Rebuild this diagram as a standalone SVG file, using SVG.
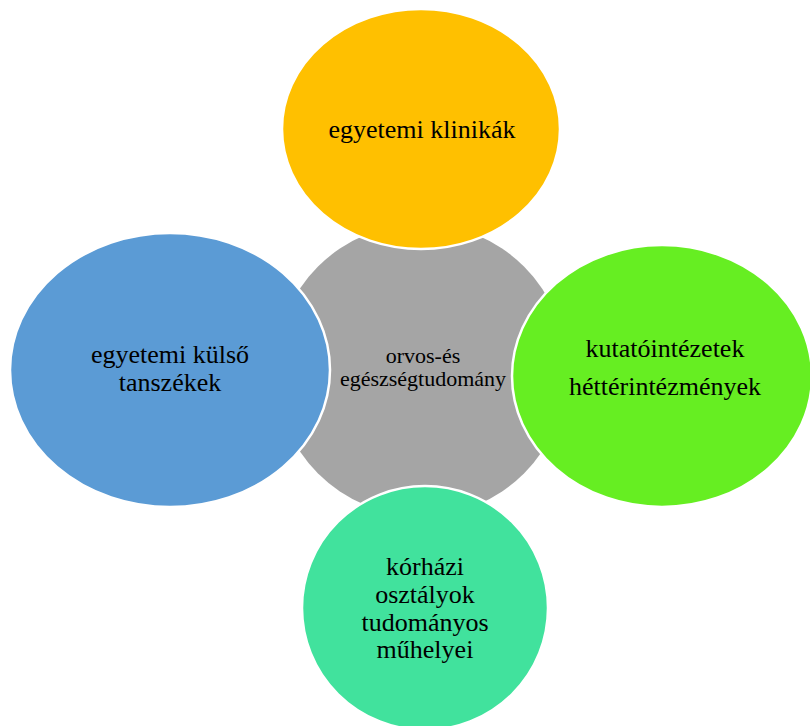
<svg xmlns="http://www.w3.org/2000/svg" width="810" height="726" viewBox="0 0 810 726">
<style>
.n{stroke:#fff;stroke-width:2.5}
</style>
<rect width="810" height="726" fill="#fff"/>
<g font-family="Liberation Serif, Times New Roman, serif" fill="#000" text-anchor="middle">
<g id="center">
<circle cx="421" cy="370" r="146" fill="#a5a5a5"/>
<text font-size="22" x="423" y="363" fill="#000">orvos-és</text>
<text font-size="22" x="423" y="386" fill="#000">egészségtudomány</text>
</g>
<g id="top">
<ellipse class="n" cx="421" cy="129" rx="139" ry="120" fill="#ffc000"/>
<text font-size="26" x="422" y="138" fill="#000">egyetemi klinikák</text>
</g>
<g id="left">
<ellipse class="n" cx="170" cy="370" rx="160" ry="137" fill="#5b9bd5"/>
<text font-size="26" x="170" y="363" fill="#000">egyetemi külső</text>
<text font-size="26" x="170" y="391" fill="#000">tanszékek</text>
</g>
<g id="right">
<ellipse class="n" cx="662" cy="376" rx="150" ry="131" fill="#66ee22"/>
<text font-size="26" x="665" y="357" fill="#000">kutatóintézetek</text>
<text font-size="26" x="665" y="395" fill="#000">héttérintézmények</text>
</g>
<g id="bottom">
<ellipse class="n" cx="425" cy="608" rx="123" ry="122" fill="#41e29d"/>
<text font-size="26" x="425" y="575" fill="#000">kórházi</text>
<text font-size="26" x="425" y="603" fill="#000">osztályok</text>
<text font-size="26" x="425" y="631" fill="#000">tudományos</text>
<text font-size="26" x="425" y="658" fill="#000">műhelyei</text>
</g>
</g>
<g id="connectors"/>
</svg>
